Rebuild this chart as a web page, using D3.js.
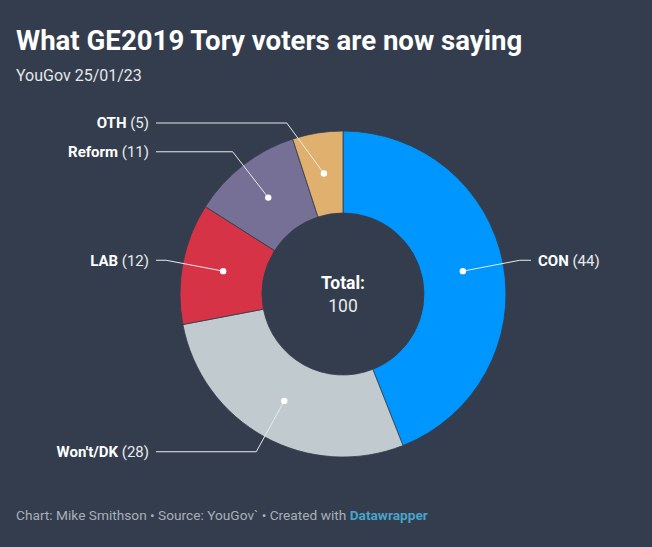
<!DOCTYPE html>
<html><head><meta charset="utf-8">
<script src="https://cdn.jsdelivr.net/npm/d3@7"></script>
<style>
html,body{margin:0;padding:0;background:#333d4d;}
svg{display:block;font-family:Roboto,"Noto Sans",sans-serif;}
</style></head>
<body>
<script>
const categories = ["CON", "Won't/DK", "LAB", "Reform", "OTH"];
const values = [44, 28, 12, 11, 5];
const colors = ["#0096ff", "#c1cbcf", "#d63446", "#766f96", "#e0b06e"];
const title = "What GE2019 Tory voters are now saying";
const subtitle = "YouGov 25/01/23";
const totalLabel = "Total:";

const W = 652, H = 547;
const svg = d3.select("body").append("svg").attr("width", W).attr("height", H);
svg.append("rect").attr("width", W).attr("height", H).attr("fill", "#333d4d");

svg.append("text").attr("x", 16).attr("y", 50).attr("fill", "#ffffff")
  .attr("font-size", 27.6).attr("font-weight", 700).text(title);
svg.append("text").attr("x", 16).attr("y", 81).attr("fill", "#e4e6e9")
  .attr("font-size", 16).text(subtitle);

const cx = 343, cy = 294, rOuter = 163, rInner = 81, rDot = (rOuter + rInner) / 2, rElbow = 180;
const data = categories.map((c, i) => ({cat: c, value: values[i], color: colors[i]}));
const pie = d3.pie().value(d => d.value).sort(null);
const arcs = pie(data);
const arc = d3.arc().innerRadius(rInner).outerRadius(rOuter);

const g = svg.append("g").attr("transform", `translate(${cx},${cy})`);
g.selectAll("path.slice").data(arcs).join("path").attr("class", "slice")
  .attr("d", arc).attr("fill", d => d.data.color)
  .attr("stroke", "#333d4d").attr("stroke-width", 0.8);

const minDy = -171;
const leftEnd = 156 - cx, rightEnd = 531 - cx;
arcs.forEach(a => {
  const mid = (a.startAngle + a.endAngle) / 2;
  const dx = rDot * Math.sin(mid), dy = -rDot * Math.cos(mid);
  let ey = -rElbow * Math.cos(mid);
  const right = Math.sin(mid) > 0;
  ey = Math.max(ey, minDy);
  const ex = (right ? 1 : -1) * Math.sqrt(rElbow * rElbow - ey * ey);
  const endX = right ? rightEnd : leftEnd;
  g.append("polyline").attr("points", `${dx},${dy} ${ex},${ey} ${endX},${ey}`)
    .attr("fill", "none").attr("stroke", "#e8eaed").attr("stroke-width", 1);
  g.append("circle").attr("cx", dx).attr("cy", dy).attr("r", 3.2).attr("fill", "#ffffff");
  const t = g.append("text").attr("x", right ? endX + 7 : endX - 7).attr("y", ey)
    .attr("dy", "0.35em").attr("text-anchor", right ? "start" : "end")
    .attr("font-size", 15).attr("fill", "#ffffff");
  t.append("tspan").attr("font-weight", 700).text(a.data.cat);
  t.append("tspan").attr("fill", "#e8eaed").text(" (" + a.data.value + ")");
});

const total = d3.sum(values);
g.append("text").attr("x", 0).attr("y", -5).attr("text-anchor", "middle")
  .attr("font-size", 17.5).attr("font-weight", 700).attr("fill", "#ffffff").text(totalLabel);
g.append("text").attr("x", 0).attr("y", 18).attr("text-anchor", "middle")
  .attr("font-size", 17.5).attr("fill", "#e8eaed").text(total);

const foot = svg.append("text").attr("x", 16).attr("y", 520).attr("font-size", 13.7).attr("fill", "#a9afb8");
foot.append("tspan").text("Chart: Mike Smithson • Source: YouGov` • Created with ");
foot.append("tspan").attr("font-weight", 700).attr("fill", "#4aa3c8").text("Datawrapper");
</script>
</body></html>
